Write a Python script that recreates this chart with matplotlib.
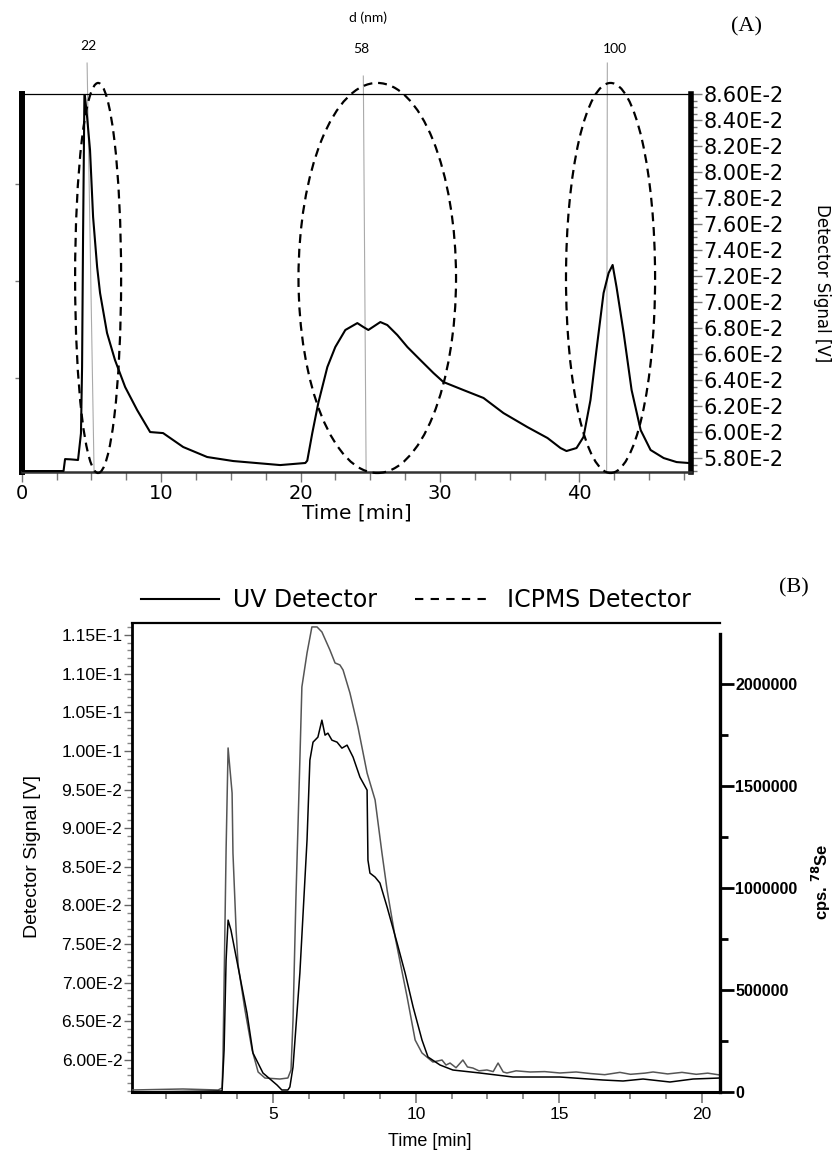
import matplotlib
matplotlib.use('Agg')
import matplotlib.pyplot as plt
from matplotlib.patches import Ellipse
from matplotlib.lines import Line2D
from matplotlib.ticker import MultipleLocator, FixedLocator

plt.rcParams['font.family'] = 'DejaVu Sans'

# ---------------- Panel A data ----------------
tA = [0, 3.0, 3.11, 3.5, 4.04, 4.25, 4.33, 4.40, 4.50, 4.69, 4.90, 5.12, 5.41, 5.62, 6.12, 6.69,
      7.42, 8.28, 9.21, 10.14, 11.58, 13.30, 15.17, 18.54, 20.34, 20.48, 20.84, 21.27, 21.92,
      22.49, 23.21, 24.07, 24.50, 24.86, 25.72, 26.22, 26.94, 27.66, 28.59, 29.53, 30.24, 31.68,
      33.12, 34.55, 36.27, 37.71, 38.64, 39.07, 39.79, 40.29, 40.79, 41.22, 41.73, 42.09, 42.38,
      42.66, 43.17, 43.74, 44.39, 45.10, 46.04, 46.97, 47.83]
vA = [0.05700, 0.05700, 0.05792, 0.05790, 0.05785, 0.05990, 0.06500, 0.07500, 0.08620, 0.08423,
      0.08169, 0.07654, 0.07269, 0.07069, 0.06762, 0.06554, 0.06346, 0.06169, 0.06000, 0.05992,
      0.05885, 0.05808, 0.05777, 0.05746, 0.05762, 0.05780, 0.05992, 0.06223, 0.06500, 0.06654,
      0.06785, 0.06838, 0.06808, 0.06785, 0.06846, 0.06823, 0.06746, 0.06654, 0.06554, 0.06454,
      0.06385, 0.06323, 0.06262, 0.06146, 0.06038, 0.05954, 0.05877, 0.05854, 0.05877, 0.05962,
      0.06246, 0.06631, 0.07069, 0.07223, 0.07285, 0.07115, 0.06762, 0.06323, 0.06015, 0.05862,
      0.05800, 0.05769, 0.05762]
yticksA = [0.058, 0.060, 0.062, 0.064, 0.066, 0.068, 0.070, 0.072, 0.074, 0.076, 0.078,
           0.080, 0.082, 0.084, 0.086]
ylabelsA = ['5.80E-2', '6.00E-2', '6.20E-2', '6.40E-2', '6.60E-2', '6.80E-2', '7.00E-2',
            '7.20E-2', '7.40E-2', '7.60E-2', '7.80E-2', '8.00E-2', '8.20E-2', '8.40E-2', '8.60E-2']
xticksA = [0, 10, 20, 30, 40]
left_ticksA = [0.07908, 0.07162, 0.06415]

# size annotations (d in nm)
d_labels = ['22', '58', '100']
d_line_bottom_t = [5.19, 24.70, 41.95]
d_line_top_t = [4.69, 24.50, 42.00]
d_line_top_v = [0.08838, 0.08738, 0.08838]
d_label_t = [4.76, 24.36, 42.52]
d_label_v = [0.08969, 0.08946, 0.08946]
ellipse_t = [5.48, 25.5, 42.23]
ellipse_w = [3.3, 11.3, 6.39]
ellipse_v = 0.07185
ellipse_h = 0.0300

# ---------------- Panel B data ----------------
tG = [0.07, 1.85, 3.08, 3.22, 3.25, 3.36, 3.43, 3.57, 3.60, 3.71, 3.78, 4.02, 4.27, 4.48, 4.72,
      5.24, 5.52, 5.63, 5.70, 5.80, 5.94, 6.01, 6.19, 6.36, 6.54, 6.71, 6.99, 7.17, 7.34, 7.45,
      7.69, 7.97, 8.29, 8.57, 8.81, 8.99, 9.27, 9.69, 9.97, 10.21, 10.59, 10.91, 11.05, 11.19,
      11.40, 11.64, 11.80, 11.99, 12.20, 12.48, 12.70, 12.87, 13.05, 13.18, 13.50, 13.99, 14.50,
      15.03, 15.60, 16.10, 16.60, 17.13, 17.50, 18.00, 18.29, 18.80, 19.30, 19.80, 20.20, 20.63]
vG = [0.05612, 0.05625, 0.05612, 0.05638, 0.06000, 0.08718, 0.10038, 0.09455, 0.08679, 0.07682,
      0.07229, 0.06647, 0.06129, 0.05845, 0.05767, 0.05754, 0.05767, 0.05871, 0.06518, 0.08071,
      0.09882, 0.10827, 0.11267, 0.11604, 0.11604, 0.11539, 0.11306, 0.11138, 0.11112, 0.11047,
      0.10750, 0.10310, 0.09714, 0.09365, 0.08679, 0.08200, 0.07592, 0.06815, 0.06259, 0.06091,
      0.05974, 0.06000, 0.05935, 0.05961, 0.05900, 0.06000, 0.05910, 0.05896, 0.05860, 0.05871,
      0.05850, 0.05961, 0.05845, 0.05832, 0.05860, 0.05845, 0.05850, 0.05832, 0.05845, 0.05825,
      0.05810, 0.05840, 0.05815, 0.05830, 0.05845, 0.05820, 0.05840, 0.05815, 0.05830, 0.05806]
tK = [0.07, 3.22, 3.29, 3.36, 3.43, 3.53, 3.78, 4.09, 4.30, 4.65, 5.14, 5.31, 5.52, 5.59, 5.70,
      5.94, 6.19, 6.29, 6.40, 6.57, 6.71, 6.82, 6.92, 7.06, 7.24, 7.41, 7.59, 7.80, 8.04, 8.29,
      8.32, 8.39, 8.57, 8.74, 8.99, 9.34, 9.62, 9.90, 10.21, 10.42, 10.84, 11.29, 12.24, 13.39,
      15.03, 16.54, 17.24, 17.94, 18.88, 19.69, 20.63]
cK = [0, 4900, 205900, 647000, 843000, 794000, 612700, 387300, 191200, 93100, 34300, 9800, 9800,
      24500, 122500, 583300, 1235300, 1627500, 1715700, 1740200, 1823500, 1750000, 1759800,
      1725500, 1715700, 1686300, 1701000, 1642200, 1544100, 1480400, 1137300, 1073500, 1053900,
      1024500, 906900, 730400, 583300, 416700, 254900, 171600, 132400, 107800, 93100, 73500,
      73500, 58800, 53900, 63700, 49000, 63700, 68600]
yticksB = [0.060, 0.065, 0.070, 0.075, 0.080, 0.085, 0.090, 0.095, 0.100, 0.105, 0.110, 0.115]
ylabelsB = ['6.00E-2', '6.50E-2', '7.00E-2', '7.50E-2', '8.00E-2', '8.50E-2', '9.00E-2',
            '9.50E-2', '1.00E-1', '1.05E-1', '1.10E-1', '1.15E-1']
xticksB = [5, 10, 15, 20]
rticksB = [0, 500000, 1000000, 1500000, 2000000]
rlabelsB = ['0', '500000', '1000000', '1500000', '2000000']
rminorB = [250000, 750000, 1250000, 1750000]
legend_labels = ['UV Detector', 'ICPMS Detector']

W, H = 833, 1158
fig = plt.figure(figsize=(W / 100, H / 100), dpi=100)


def px_rect(l, t, r, b):
    return [l / W, 1 - b / H, (r - l) / W, (b - t) / H]


def fx(px):
    return px / W


def fy(py):
    return 1 - py / H


# ================= Panel A =================
axA = fig.add_axes(px_rect(21.7, 94, 691, 471.7))
axA.plot(tA, vA, color='black', lw=1.5, zorder=3)
axA.set_xlim(0, 48)
axA.set_ylim(0.05695, 0.0860)

axA.yaxis.tick_right()
axA.set_yticks(yticksA)
axA.set_yticklabels(ylabelsA)
axA.yaxis.set_minor_locator(MultipleLocator(0.0005))
axA.tick_params(axis='y', which='major', right=True, left=False, direction='out', length=8,
                width=1, color='#777777', labelsize=15, pad=1)
axA.tick_params(axis='y', which='minor', right=True, left=False, direction='out', length=4,
                width=1, color='#777777')
axA.set_xticks(xticksA)
axA.xaxis.set_minor_locator(MultipleLocator(2.5))
axA.tick_params(axis='x', which='major', direction='out', length=7, width=1, color='#777777',
                labelsize=14, pad=2)
axA.tick_params(axis='x', which='minor', direction='out', length=6, width=1, color='#777777')

secA = axA.secondary_yaxis('left')
secA.set_yticks(left_ticksA)
secA.set_yticklabels(['', '', ''])
secA.tick_params(length=5, width=1, color='#777777')
secA.spines['left'].set_visible(False)

axA.spines['left'].set_linewidth(4.3)
axA.spines['right'].set_linewidth(4.0)
axA.spines['top'].set_linewidth(0.9)
axA.spines['bottom'].set_linewidth(1.8)
axA.spines['bottom'].set_color('#333333')

for tb, tt, vt in zip(d_line_bottom_t, d_line_top_t, d_line_top_v):
    axA.plot([tb, tt], [0.05695, vt], color='#aaaaaa', lw=0.8, clip_on=False, zorder=2)
for lab, tl, vl in zip(d_labels, d_label_t, d_label_v):
    axA.text(tl, vl, lab, ha='center', va='center', fontsize=10, family='Lato')
for c, w in zip(ellipse_t, ellipse_w):
    axA.add_patch(Ellipse((c, ellipse_v), w, ellipse_h, fill=False, ec='black', lw=1.6,
                          ls=(0, (4, 2.6)), clip_on=False, zorder=4))

fig.text(fx(368), fy(18), 'd (nm)', ha='center', va='center', fontsize=10, family='Lato')
fig.text(fx(747), fy(27), '(A)', ha='center', va='center', fontsize=16, family='Liberation Serif')
fig.text(fx(357), fy(513), 'Time [min]', ha='center', va='center', fontsize=14.5)
fig.text(fx(822), fy(283), 'Detector Signal [V]', ha='center', va='center', fontsize=12,
         rotation=270)

# ================= Panel B =================
axB = fig.add_axes(px_rect(132, 623, 720, 1092))
axB.plot(tG, vG, color='#555555', lw=1.1, zorder=3)
axB.set_xlim(0.07, 20.63)
axB.set_ylim(0.05586, 0.11655)
axB.set_yticks(yticksB)
axB.set_yticklabels(ylabelsB)
axB.yaxis.set_minor_locator(MultipleLocator(0.001))
axB.set_xticks(xticksB)
axB.xaxis.set_minor_locator(MultipleLocator(1.25))
axB.tick_params(axis='y', which='major', direction='out', length=6, width=1, color='#666666',
                labelsize=12.5, pad=1)
axB.tick_params(axis='y', which='minor', direction='out', length=3.5, width=1, color='#888888')
axB.tick_params(axis='x', which='major', direction='out', length=8, width=1.2, color='#777777',
                labelsize=12.5, pad=3)
axB.tick_params(axis='x', which='minor', direction='out', length=5, width=1.2, color='#777777')
for lab in axB.get_xticklabels() + axB.get_yticklabels():
    lab.set_family('Liberation Sans')
axB.spines['left'].set_linewidth(2.0)
axB.spines['top'].set_linewidth(1.6)
axB.spines['bottom'].set_linewidth(2.2)
axB.spines['right'].set_visible(False)

axR = axB.twinx()
axR.plot(tK, cK, color='black', lw=1.1, zorder=4)
axR.set_ylim(0, 2300000)
axR.set_yticks(rticksB)
axR.set_yticklabels(rlabelsB)
axR.yaxis.set_minor_locator(FixedLocator(rminorB))
axR.tick_params(axis='y', which='major', direction='out', length=10, width=2, color='black',
                labelsize=11.5, pad=1)
axR.tick_params(axis='y', which='minor', direction='out', length=6, width=2, color='black')
for lab in axR.get_yticklabels():
    lab.set_family('Liberation Sans')
    lab.set_fontweight('bold')
for s in ['top', 'left', 'bottom']:
    axR.spines[s].set_visible(False)
axR.spines['right'].set_linewidth(2.4)
axR.spines['right'].set_bounds(0, 2245000)

handles = [Line2D([], [], color='black', lw=1.5),
           Line2D([], [], color='black', lw=1.5, ls=(0, (4, 3.5)))]
fig.legend(handles, legend_labels, loc='center', bbox_to_anchor=(fx(416), fy(600)), ncol=2,
           frameon=False, prop={'family': 'DejaVu Sans', 'size': 17}, handlelength=3.3,
           handletextpad=0.6, columnspacing=1.6, borderpad=0, borderaxespad=0)

fig.text(fx(794), fy(588), '(B)', ha='center', va='center', fontsize=16,
         family='Liberation Serif')
fig.text(fx(430), fy(1142), 'Time [min]', ha='center', va='center', fontsize=13,
         family='Liberation Sans')
fig.text(fx(33), fy(856), 'Detector Signal [V]', ha='center', va='center', fontsize=14,
         family='Liberation Sans', rotation=90)
fig.text(fx(821), fy(882), r'cps. $^{\mathbf{78}}$Se', ha='center', va='center', fontsize=12,
         family='Liberation Sans', fontweight='bold', rotation=90)

fig.savefig('out.png', dpi=100)
